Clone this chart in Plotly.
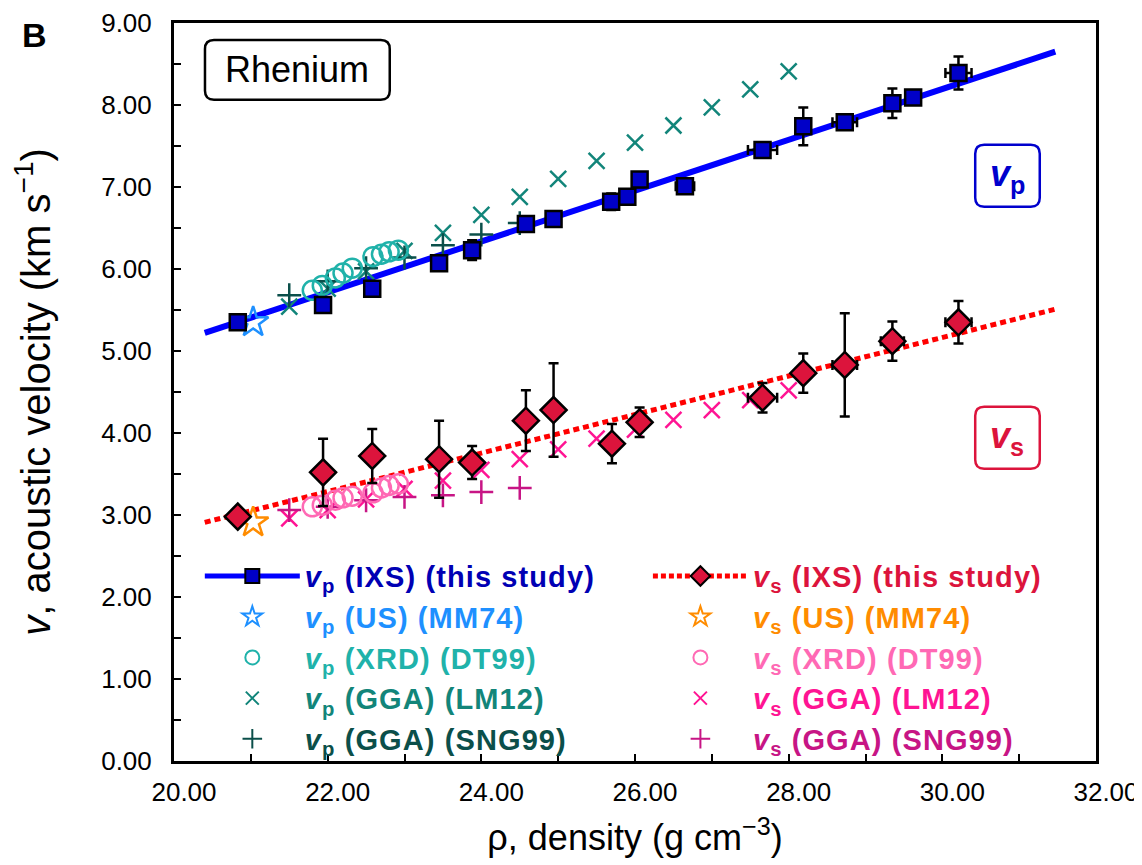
import plotly.graph_objects as go

# ---------------- data ----------------
vp_rho = [20.83, 21.94, 22.58, 23.45, 23.88, 24.58, 24.94, 25.69, 25.90, 26.06, 26.65, 27.66, 28.19, 28.73, 29.35, 29.62, 30.21]
vp_v = [5.35, 5.56, 5.76, 6.07, 6.23, 6.55, 6.61, 6.82, 6.88, 7.09, 7.01, 7.45, 7.74, 7.79, 8.02, 8.09, 8.39]
vp_verr = [0.03, 0.03, 0.04, 0.09, 0.12, 0.08, 0.04, 0.10, 0.06, 0.09, 0.06, 0.08, 0.23, 0.05, 0.18, 0.08, 0.20]
vp_rerr = [0.02, 0.02, 0.03, 0.05, 0.06, 0.08, 0.05, 0.05, 0.05, 0.05, 0.12, 0.19, 0.05, 0.16, 0.06, 0.08, 0.17]

vs_rho = [20.83, 21.94, 22.58, 23.45, 23.88, 24.58, 24.94, 25.70, 26.06, 27.66, 28.19, 28.73, 29.35, 30.21]
vs_v = [2.98, 3.52, 3.72, 3.68, 3.64, 4.15, 4.28, 3.87, 4.13, 4.43, 4.73, 4.83, 5.12, 5.35]
vs_verr = [0.03, 0.41, 0.33, 0.47, 0.20, 0.37, 0.57, 0.24, 0.18, 0.18, 0.24, 0.63, 0.24, 0.26]
vs_rerr = [0.02, 0.02, 0.03, 0.05, 0.06, 0.05, 0.05, 0.05, 0.05, 0.19, 0.05, 0.16, 0.15, 0.17]

fit_rho = [20.40, 31.47]
vp_fit = [5.22, 8.65]
vs_fit = [2.91, 5.51]

us_rho = [21.03]
us_vp = [5.35]
us_vs = [2.91]

xrd_rho = [21.80, 21.93, 22.10, 22.20, 22.32, 22.59, 22.70, 22.80, 22.92]
xrd_vp = [5.74, 5.80, 5.89, 5.95, 6.01, 6.15, 6.18, 6.21, 6.23]
xrd_vs = [3.10, 3.12, 3.18, 3.21, 3.23, 3.27, 3.33, 3.36, 3.38]

lm_rho = [21.5, 22.0, 22.5, 23.0, 23.5, 24.0, 24.5, 25.0, 25.5, 26.0, 26.5, 27.0, 27.5, 28.0]
lm_vp = [5.54, 5.76, 5.97, 6.22, 6.44, 6.66, 6.88, 7.10, 7.32, 7.54, 7.75, 7.97, 8.19, 8.41]
lm_vs = [2.96, 3.06, 3.19, 3.32, 3.42, 3.55, 3.68, 3.80, 3.93, 4.04, 4.16, 4.28, 4.40, 4.52]

sng_rho = [21.5, 22.0, 22.5, 23.0, 23.5, 24.0, 24.5]
sng_vp = [5.68, 5.85, 6.01, 6.14, 6.29, 6.42, 6.56]
sng_vs = [3.06, 3.10, 3.18, 3.22, 3.24, 3.28, 3.33]

x_ticks = [20, 22, 24, 26, 28, 30, 32]
y_ticks = [0, 1, 2, 3, 4, 5, 6, 7, 8, 9]

# ---------------- styles ----------------
FONT = "Liberation Sans, Arial, sans-serif"
C_VP_LINE = "#0000ff"
C_VP_MARK = "#0000c8"
C_VP_TXT = "#0000b4"
C_VP_BOX = "#0000cd"
C_VP_US = "#1e90ff"
C_VP_XRD = "#20b2aa"
C_VP_LM = "#12857a"
C_VP_SNG = "#0b4f4a"
C_VS_LINE = "#ff0000"
C_VS_MARK = "#dc143c"
C_VS_US = "#ff8c00"
C_VS_XRD = "#ff69b4"
C_VS_LM = "#ff1493"
C_VS_SNG = "#c71585"

# the page body adds an 8px margin; the figure is sized to fit the 1142x865 window
W, H = 1134, 857
ML, MR, MT, MB = 166, 46, 15, 104
PW, PH = W - ML - MR, H - MT - MB


def lab(sub, rest, color):
    return (f"<span style='color:{color};letter-spacing:1.1px'><b><i>v</i><sub>{sub}</sub> {rest}</b></span>")


def rounded_box(x0, y0, x1, y1, r=9):
    """Rounded rectangle path in paper coordinates (x0<x1, y0<y1)."""
    rx, ry = r / PW, r / PH
    return (f"M{x0+rx},{y0} L{x1-rx},{y0} Q{x1},{y0} {x1},{y0+ry} "
            f"L{x1},{y1-ry} Q{x1},{y1} {x1-rx},{y1} L{x0+rx},{y1} "
            f"Q{x0},{y1} {x0},{y1-ry} L{x0},{y0+ry} Q{x0},{y0} {x0+rx},{y0} Z")


err_style = dict(color="black", thickness=2.5, width=5)

fig = go.Figure()

# vp group
fig.add_trace(go.Scatter(x=fit_rho, y=vp_fit, mode="lines", line=dict(color=C_VP_LINE, width=6),
                         showlegend=False, hoverinfo="skip"))
fig.add_trace(go.Scatter(x=lm_rho, y=lm_vp, mode="markers", showlegend=False,
                         marker=dict(symbol="x-thin-open", size=16, color=C_VP_LM, line=dict(color=C_VP_LM, width=2.5))))
fig.add_trace(go.Scatter(x=sng_rho, y=sng_vp, mode="markers", showlegend=False,
                         marker=dict(symbol="cross-thin-open", size=17, color=C_VP_SNG, line=dict(color=C_VP_SNG, width=2.5))))
fig.add_trace(go.Scatter(x=xrd_rho, y=xrd_vp, mode="markers", showlegend=False,
                         marker=dict(symbol="circle-open", size=19, color=C_VP_XRD, line=dict(color=C_VP_XRD, width=2.5))))
fig.add_trace(go.Scatter(x=us_rho, y=us_vp, mode="markers", showlegend=False,
                         marker=dict(symbol="star-open", size=23, color=C_VP_US, line=dict(color=C_VP_US, width=2.5))))
fig.add_trace(go.Scatter(x=vp_rho, y=vp_v, mode="markers", showlegend=False,
                         error_y=dict(type="data", array=vp_verr, **err_style),
                         error_x=dict(type="data", array=vp_rerr, **err_style),
                         marker=dict(symbol="square", size=16, color=C_VP_MARK, line=dict(color="black", width=2.5))))

# vs group
fig.add_trace(go.Scatter(x=fit_rho, y=vs_fit, mode="lines", line=dict(color=C_VS_LINE, width=5, dash="6px,4px"),
                         showlegend=False, hoverinfo="skip"))
fig.add_trace(go.Scatter(x=lm_rho, y=lm_vs, mode="markers", showlegend=False,
                         marker=dict(symbol="x-thin-open", size=16, color=C_VS_LM, line=dict(color=C_VS_LM, width=2.5))))
fig.add_trace(go.Scatter(x=sng_rho, y=sng_vs, mode="markers", showlegend=False,
                         marker=dict(symbol="cross-thin-open", size=17, color=C_VS_SNG, line=dict(color=C_VS_SNG, width=2.5))))
fig.add_trace(go.Scatter(x=xrd_rho, y=xrd_vs, mode="markers", showlegend=False,
                         marker=dict(symbol="circle-open", size=19, color=C_VS_XRD, line=dict(color=C_VS_XRD, width=2.5))))
fig.add_trace(go.Scatter(x=us_rho, y=us_vs, mode="markers", showlegend=False,
                         marker=dict(symbol="star-open", size=23, color=C_VS_US, line=dict(color=C_VS_US, width=2.5))))
fig.add_trace(go.Scatter(x=vs_rho, y=vs_v, mode="markers", showlegend=False,
                         error_y=dict(type="data", array=vs_verr, **err_style),
                         error_x=dict(type="data", array=vs_rerr, **err_style),
                         marker=dict(symbol="diamond", size=20, color=C_VS_MARK, line=dict(color="black", width=2.5))))


def leg(name, legend, mode, marker, line=None):
    kw = dict(x=[None], y=[None], mode=mode, name=name, legend=legend, marker=marker)
    if line is not None:
        kw["line"] = line
    fig.add_trace(go.Scatter(**kw))


leg(lab("p", "(IXS) (this study)", C_VP_TXT), "legend", "lines+markers",
    dict(symbol="square", size=14, color=C_VP_MARK, line=dict(color="black", width=2)),
    dict(color=C_VP_LINE, width=5))
leg(lab("p", "(US) (MM74)", C_VP_US), "legend", "markers",
    dict(symbol="star-open", size=15, color=C_VP_US, line=dict(color=C_VP_US, width=2)))
leg(lab("p", "(XRD) (DT99)", C_VP_XRD), "legend", "markers",
    dict(symbol="circle-open", size=14, color=C_VP_XRD, line=dict(color=C_VP_XRD, width=2)))
leg(lab("p", "(GGA) (LM12)", C_VP_LM), "legend", "markers",
    dict(symbol="x-thin-open", size=13, color=C_VP_LM, line=dict(color=C_VP_LM, width=2)))
leg(lab("p", "(GGA) (SNG99)", C_VP_SNG), "legend", "markers",
    dict(symbol="cross-thin-open", size=14, color=C_VP_SNG, line=dict(color=C_VP_SNG, width=2)))

leg(lab("s", "(IXS) (this study)", C_VS_MARK), "legend2", "lines+markers",
    dict(symbol="diamond", size=15, color=C_VS_MARK, line=dict(color="black", width=2)),
    dict(color=C_VS_LINE, width=5, dash="5px,3px"))
leg(lab("s", "(US) (MM74)", C_VS_US), "legend2", "markers",
    dict(symbol="star-open", size=15, color=C_VS_US, line=dict(color=C_VS_US, width=2)))
leg(lab("s", "(XRD) (DT99)", C_VS_XRD), "legend2", "markers",
    dict(symbol="circle-open", size=14, color=C_VS_XRD, line=dict(color=C_VS_XRD, width=2)))
leg(lab("s", "(GGA) (LM12)", C_VS_LM), "legend2", "markers",
    dict(symbol="x-thin-open", size=13, color=C_VS_LM, line=dict(color=C_VS_LM, width=2)))
leg(lab("s", "(GGA) (SNG99)", C_VS_SNG), "legend2", "markers",
    dict(symbol="cross-thin-open", size=14, color=C_VS_SNG, line=dict(color=C_VS_SNG, width=2)))

legend_common = dict(bgcolor="rgba(0,0,0,0)", borderwidth=0, font=dict(family=FONT, size=29),
                     tracegroupgap=0, itemwidth=95, xanchor="left", yanchor="top")

# box positions (paper fractions)
rh_box = (0.0336, 0.896, 0.234, 0.977)
vp_box = (0.869, 0.751, 0.939, 0.835)
vs_box = (0.869, 0.396, 0.939, 0.480)

fig.update_layout(
    width=W, height=H,
    template="none",
    margin=dict(l=ML, r=MR, t=MT, b=MB, autoexpand=False),
    paper_bgcolor="white", plot_bgcolor="white",
    legend=dict(x=0.028, y=0.285, **legend_common),
    legend2=dict(x=0.514, y=0.285, **legend_common),
    xaxis=dict(range=[20, 32], tickvals=x_ticks, ticktext=[f"{t:.2f}" for t in x_ticks],
               ticks="inside", ticklen=7, tickwidth=2, tickcolor="black",
               minor=dict(dtick=1, ticks="inside", ticklen=7, tickwidth=2, tickcolor="black", showgrid=False),
               showline=True, linecolor="black", linewidth=3, mirror=True, automargin=False,
               showgrid=False, zeroline=False, ticklabelshift=10, ticklabeloverflow="allow",
               ticklabelstandoff=6,
               tickfont=dict(family=FONT, size=26, color="black"),
               title=dict(text="ρ, density (g cm<sup>−3</sup>)", font=dict(family=FONT, size=36, color="black"),
                          standoff=19)),
    yaxis=dict(range=[0, 9], tickvals=y_ticks, ticktext=[f"{t:.2f}" for t in y_ticks],
               ticks="inside", ticklen=7, tickwidth=2, tickcolor="black",
               minor=dict(dtick=0.5, ticks="inside", ticklen=7, tickwidth=2, tickcolor="black", showgrid=False),
               showline=True, linecolor="black", linewidth=3, mirror=True, automargin=False,
               showgrid=False, zeroline=False, ticklabelstandoff=14,
               tickfont=dict(family=FONT, size=26, color="black"),
               title=dict(text="<i>v</i>, acoustic velocity (km s<sup>−1</sup>)",
                          font=dict(family=FONT, size=40, color="black"), standoff=43)),
    shapes=[
        dict(type="path", xref="paper", yref="paper", path=rounded_box(*rh_box),
             line=dict(color="black", width=2.5), fillcolor="white", layer="above"),
        dict(type="path", xref="paper", yref="paper", path=rounded_box(*vp_box),
             line=dict(color=C_VP_BOX, width=2.5), fillcolor="white", layer="above"),
        dict(type="path", xref="paper", yref="paper", path=rounded_box(*vs_box),
             line=dict(color=C_VS_MARK, width=2.5), fillcolor="white", layer="above"),
    ],
    annotations=[
        dict(text="Rhenium", x=(rh_box[0] + rh_box[2]) / 2, y=(rh_box[1] + rh_box[3]) / 2,
             xref="paper", yref="paper", xanchor="center", yanchor="middle",
             showarrow=False, font=dict(family=FONT, size=36, color="black")),
        dict(text="<b><i>v</i><sub>p</sub></b>", x=(vp_box[0] + vp_box[2]) / 2, y=(vp_box[1] + vp_box[3]) / 2,
             xref="paper", yref="paper", xanchor="center", yanchor="middle", showarrow=False,
             font=dict(family=FONT, size=36, color=C_VP_BOX)),
        dict(text="<b><i>v</i><sub>s</sub></b>", x=(vs_box[0] + vs_box[2]) / 2, y=(vs_box[1] + vs_box[3]) / 2,
             xref="paper", yref="paper", xanchor="center", yanchor="middle", showarrow=False,
             font=dict(family=FONT, size=36, color=C_VS_MARK)),
        dict(text="<b>B</b>", x=-0.167, y=1.012, xref="paper", yref="paper", xanchor="left", yanchor="top",
             showarrow=False, font=dict(family=FONT, size=34, color="black")),
    ],
)

fig.write_html("out.html")
